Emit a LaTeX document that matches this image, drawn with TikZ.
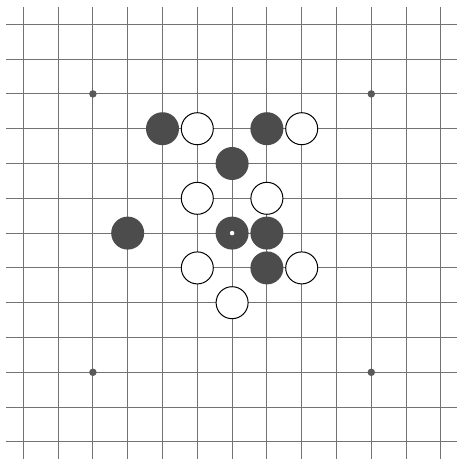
\documentclass[tikz,border=0pt]{standalone}
\begin{document}
\begin{tikzpicture}[x=1pt,y=-1pt,
  gridline/.style={draw=black!55,line width=1.1pt},
  blackstone/.style={circle,fill=black!70,draw=none,minimum size=33pt,inner sep=0pt},
  whitestone/.style={circle,fill=white,draw=black,line width=1pt,minimum size=32pt,inner sep=0pt},
  starpt/.style={circle,fill=black!65,minimum size=7.5pt,inner sep=0pt},
  lastmark/.style={circle,fill=white,minimum size=4.5pt,inner sep=0pt}]
\useasboundingbox (0,0) rectangle (457,459);
\def\s{34.8}
\def\xo{23.3}
\def\yo{24.3}
\foreach \i in {0,...,12}{
  \draw[gridline] ({\xo+\i*\s},7) -- ({\xo+\i*\s},459);
  \draw[gridline] (6,{\yo+\i*\s}) -- (457,{\yo+\i*\s});
}
\foreach \c/\r/\n in {2/2/sa,10/2/sb,2/10/sc,10/10/sd}
  \node[starpt] (\n) at ({\xo+\c*\s},{\yo+\r*\s}) {};
% black stones
\foreach \c/\r/\n in {4/3/b1,7/3/b2,6/4/b3,3/6/b4,6/6/b5,7/6/b6,7/7/b7}
  \node[blackstone] (\n) at ({\xo+\c*\s},{\yo+\r*\s}) {};
% white stones
\foreach \c/\r/\n in {5/3/w1,8/3/w2,5/5/w3,7/5/w4,5/7/w5,8/7/w6,6/8/w7}
  \node[whitestone] (\n) at ({\xo+\c*\s},{\yo+\r*\s}) {};
\node[lastmark] (last) at (b5.center) {};
\end{tikzpicture}
\end{document}
